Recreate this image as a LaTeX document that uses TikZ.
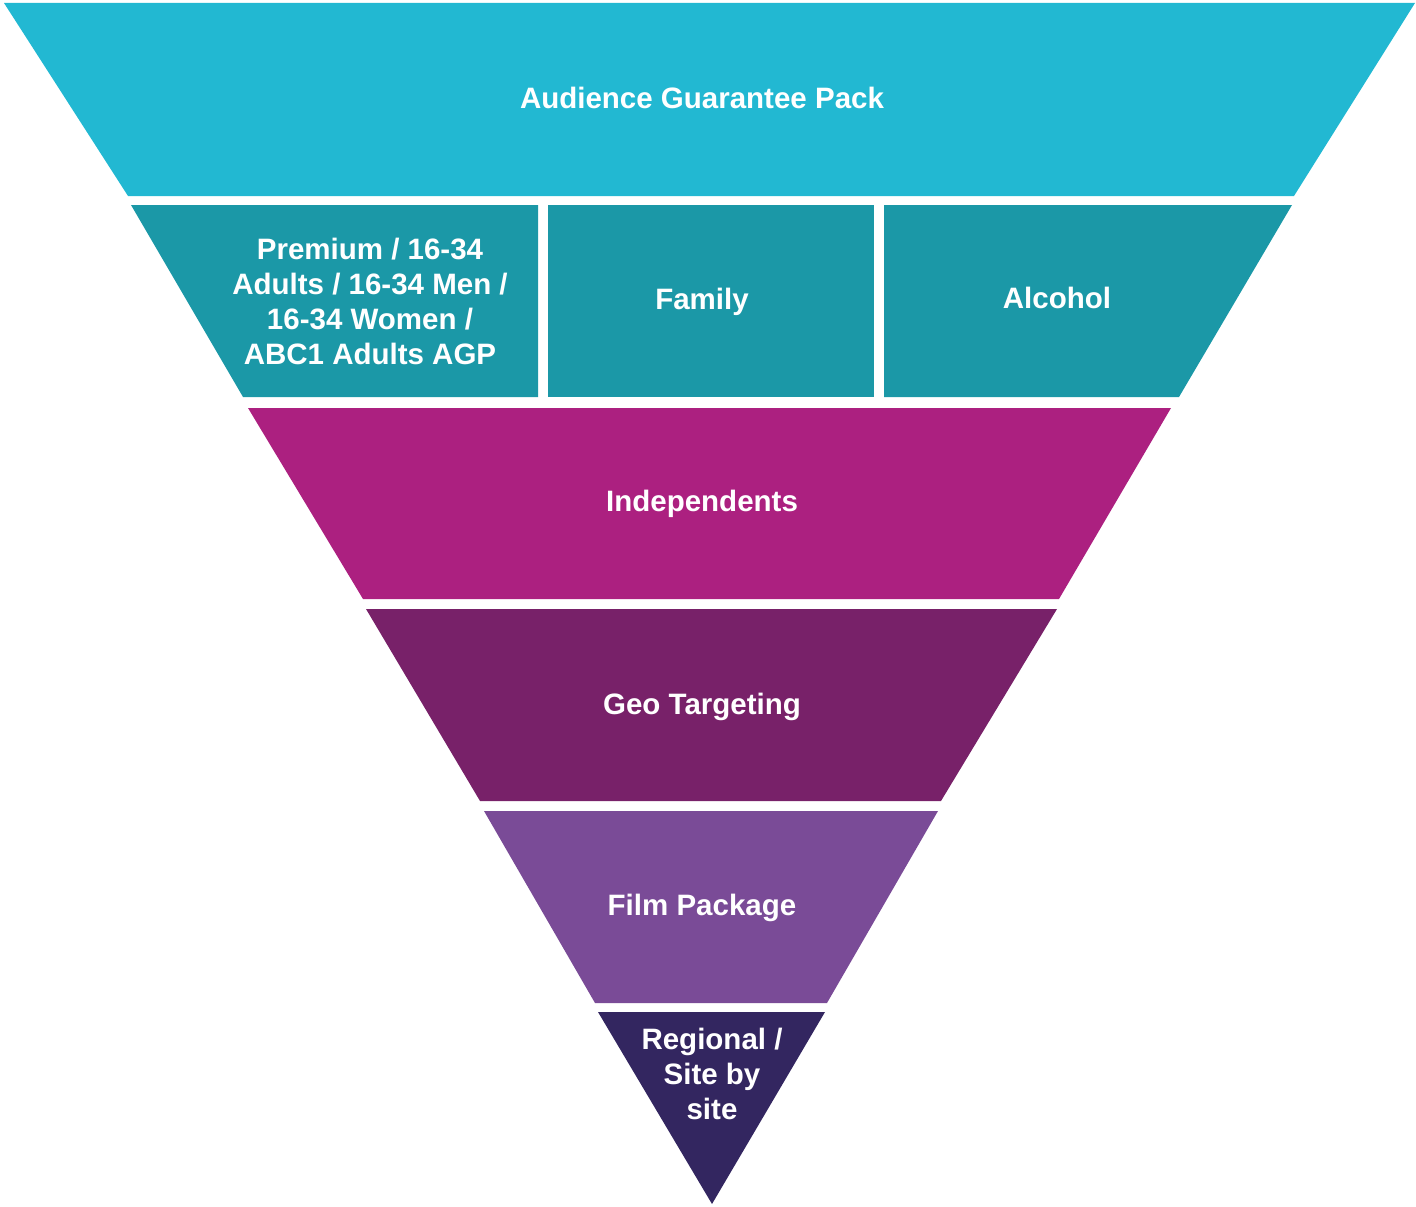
\documentclass[tikz,border=0pt]{standalone}
\usepackage{fontspec}
\setmainfont{Liberation Sans}
\definecolor{cA}{RGB}{34,184,210}
\definecolor{cB}{RGB}{27,152,167}
\definecolor{cC}{RGB}{172,32,128}
\definecolor{cD}{RGB}{120,33,105}
\definecolor{cE}{RGB}{122,75,151}
\definecolor{cF}{RGB}{51,38,96}
\tikzset{
  lbl/.style={text=white, font=\fontsize{29.5}{35}\selectfont\bfseries, align=center, inner sep=0pt},
  onel/.style={lbl, text height=21pt, text depth=0pt}
}
\begin{document}
\begin{tikzpicture}[x=1pt,y=-1pt]
\useasboundingbox (0,0) rectangle (1416,1207);
% band 1
\fill[cA] (4,3) -- (1415,3) -- (1294,196) -- (128,196) -- cycle;
% band 2 cells
\fill[cB] (131,205) -- (538,205) -- (538,397) -- (243,397) -- cycle;
\fill[cB] (548,205) -- (874,205) -- (874,397) -- (548,397) -- cycle;
\fill[cB] (884,205) -- (1292,205) -- (1179,397) -- (884,397) -- cycle;
% band 3
\fill[cC] (248,408) -- (1171,408) -- (1059,599) -- (363,599) -- cycle;
% band 4
\fill[cD] (366,609) -- (1057,609) -- (941,801) -- (480,801) -- cycle;
% band 5
\fill[cE] (484,811) -- (938,811) -- (827,1003) -- (595,1003) -- cycle;
% band 6
\fill[cF] (598,1012) -- (825,1012) -- (712,1204) -- cycle;
% labels
\node[onel] (agp) at (702,97.5) {Audience Guarantee Pack};
\node[lbl] (prem) at (370,301) {Premium / 16-34\\Adults / 16-34 Men /\\16-34 Women /\\ABC1 Adults AGP};
\node[onel] (fam) at (702,298.5) {Family};
\node[onel] (alc) at (1057,298) {Alcohol};
\node[onel] (ind) at (702,500.5) {Independents};
\node[onel] (geo) at (702,703.5) {Geo Targeting};
\node[onel] (film) at (702,904.5) {Film Package};
\node[lbl] (reg) at (712,1074) {Regional /\\Site by\\site};
\end{tikzpicture}
\end{document}
